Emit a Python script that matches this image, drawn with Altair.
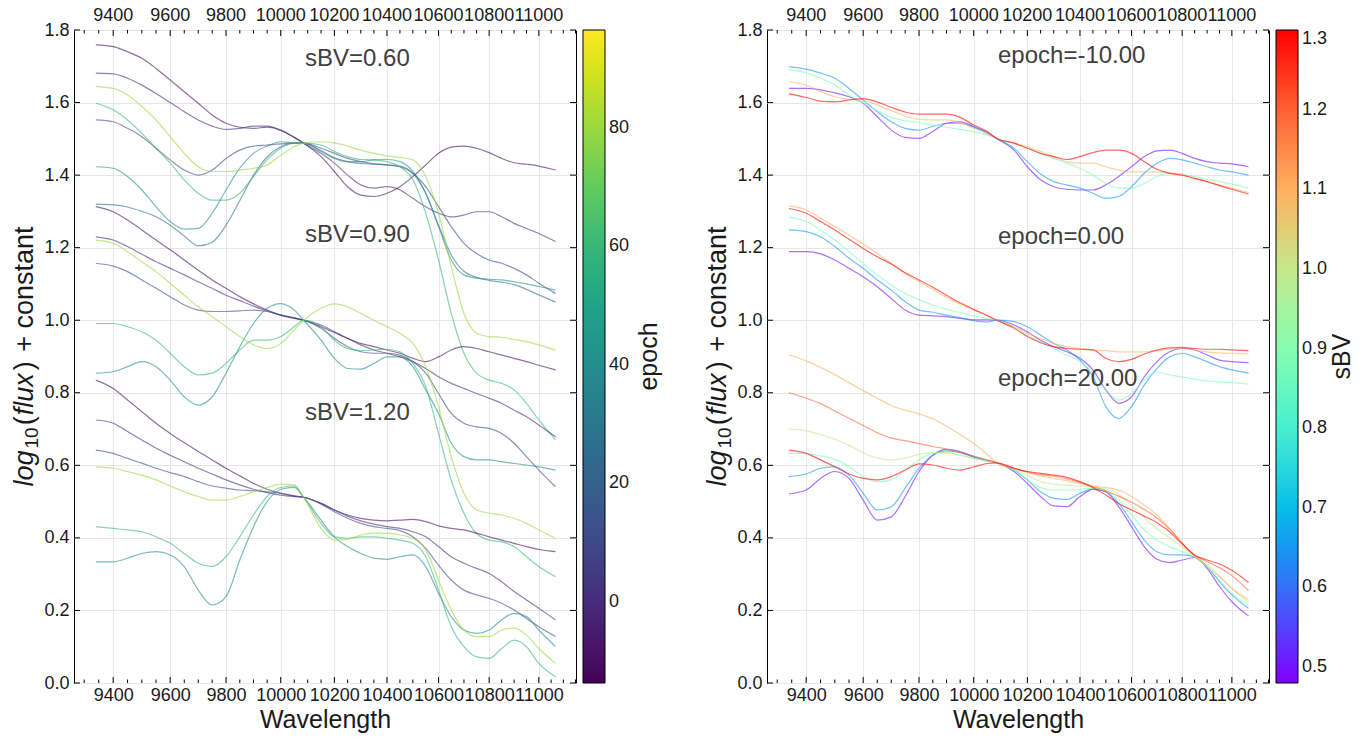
import altair as alt
import pandas as pd

# ---------------------------------------------------------------- data
WAVE = [9340, 9400, 9450, 9500, 9550, 9600, 9650, 9700, 9750, 9800, 9850, 9900, 9950,
        10000, 10050, 10085, 10150, 10200, 10250, 10300, 10350, 10400, 10450, 10500,
        10550, 10600, 10650, 10700, 10750, 10800, 10850, 10900, 10950, 11000, 11068]

X_MAJOR = [9400, 9600, 9800, 10000, 10200, 10400, 10600, 10800, 11000]
X_MINOR = [9300, 9350, 9450, 9500, 9550, 9650, 9700, 9750, 9850, 9900, 9950,
           10050, 10100, 10150, 10250, 10300, 10350, 10450, 10500, 10550,
           10650, 10700, 10750, 10850, 10900, 10950, 11050, 11100, 11150]
Y_MAJOR = [0.0, 0.2, 0.4, 0.6, 0.8, 1.0, 1.2, 1.4, 1.6, 1.8]

# left panel: spectra at fixed sBV for a range of epochs
SBV_GROUPS = [0.60, 0.90, 1.20]
SBV_LABEL_Y = [1.70, 1.215, 0.725]
FLUX_SBV060 = {
    -10: [1.759, 1.754, 1.740, 1.722, 1.694, 1.662, 1.630, 1.598, 1.566, 1.543, 1.532, 1.529, 1.532, 1.524, 1.504, 1.488, 1.451, 1.410, 1.368, 1.345, 1.341, 1.350, 1.368, 1.396, 1.428, 1.460, 1.477, 1.480, 1.474, 1.462, 1.446, 1.434, 1.430, 1.425, 1.414],
    0: [1.681, 1.679, 1.667, 1.648, 1.625, 1.600, 1.575, 1.552, 1.535, 1.526, 1.529, 1.535, 1.535, 1.523, 1.504, 1.488, 1.460, 1.433, 1.400, 1.373, 1.364, 1.368, 1.359, 1.336, 1.313, 1.295, 1.285, 1.290, 1.299, 1.299, 1.285, 1.267, 1.253, 1.239, 1.217],
    10: [1.552, 1.547, 1.529, 1.506, 1.474, 1.442, 1.414, 1.400, 1.414, 1.446, 1.469, 1.480, 1.483, 1.486, 1.488, 1.488, 1.474, 1.460, 1.446, 1.437, 1.431, 1.428, 1.423, 1.405, 1.368, 1.313, 1.258, 1.212, 1.184, 1.166, 1.157, 1.143, 1.125, 1.102, 1.074],
    25: [1.320, 1.318, 1.312, 1.300, 1.285, 1.262, 1.232, 1.205, 1.215, 1.262, 1.330, 1.400, 1.450, 1.478, 1.488, 1.488, 1.468, 1.448, 1.437, 1.432, 1.430, 1.428, 1.425, 1.405, 1.350, 1.262, 1.180, 1.135, 1.118, 1.110, 1.105, 1.098, 1.085, 1.070, 1.050],
    40: [1.423, 1.419, 1.396, 1.359, 1.313, 1.272, 1.251, 1.253, 1.295, 1.359, 1.419, 1.460, 1.480, 1.492, 1.489, 1.488, 1.465, 1.446, 1.437, 1.437, 1.442, 1.443, 1.437, 1.410, 1.350, 1.258, 1.166, 1.125, 1.116, 1.113, 1.111, 1.106, 1.100, 1.093, 1.083],
    60: [1.598, 1.580, 1.552, 1.515, 1.474, 1.433, 1.387, 1.350, 1.331, 1.331, 1.350, 1.396, 1.442, 1.474, 1.488, 1.488, 1.483, 1.465, 1.451, 1.443, 1.442, 1.437, 1.423, 1.387, 1.295, 1.166, 1.019, 0.909, 0.854, 0.835, 0.826, 0.808, 0.771, 0.725, 0.670],
    80: [1.644, 1.639, 1.621, 1.589, 1.552, 1.506, 1.460, 1.423, 1.410, 1.410, 1.414, 1.419, 1.428, 1.455, 1.478, 1.488, 1.492, 1.489, 1.480, 1.469, 1.460, 1.453, 1.449, 1.442, 1.396, 1.295, 1.148, 1.019, 0.964, 0.955, 0.953, 0.947, 0.941, 0.932, 0.918],
}
FLUX_SBV090 = {
    -10: [1.313, 1.299, 1.276, 1.249, 1.221, 1.194, 1.166, 1.138, 1.111, 1.088, 1.065, 1.045, 1.028, 1.014, 1.005, 1.000, 0.982, 0.966, 0.950, 0.936, 0.927, 0.918, 0.909, 0.895, 0.886, 0.899, 0.918, 0.927, 0.922, 0.913, 0.904, 0.895, 0.886, 0.876, 0.863],
    0: [1.230, 1.221, 1.203, 1.182, 1.161, 1.143, 1.125, 1.106, 1.088, 1.069, 1.054, 1.039, 1.026, 1.014, 1.006, 1.000, 0.987, 0.968, 0.950, 0.932, 0.918, 0.909, 0.899, 0.886, 0.867, 0.844, 0.826, 0.812, 0.798, 0.785, 0.771, 0.752, 0.734, 0.711, 0.679],
    10: [1.157, 1.149, 1.134, 1.111, 1.088, 1.065, 1.042, 1.028, 1.024, 1.024, 1.026, 1.028, 1.024, 1.014, 1.007, 1.000, 0.978, 0.950, 0.927, 0.913, 0.909, 0.909, 0.904, 0.886, 0.854, 0.798, 0.743, 0.716, 0.706, 0.702, 0.688, 0.661, 0.624, 0.587, 0.541],
    40: [0.854, 0.858, 0.872, 0.886, 0.872, 0.835, 0.789, 0.766, 0.789, 0.854, 0.927, 0.991, 1.033, 1.046, 1.028, 1.000, 0.945, 0.895, 0.867, 0.865, 0.881, 0.899, 0.899, 0.872, 0.808, 0.743, 0.661, 0.624, 0.615, 0.615, 0.610, 0.605, 0.601, 0.596, 0.587],
    60: [0.991, 0.991, 0.982, 0.968, 0.945, 0.909, 0.872, 0.849, 0.854, 0.881, 0.918, 0.945, 0.945, 0.955, 0.982, 1.000, 0.982, 0.945, 0.922, 0.916, 0.918, 0.920, 0.913, 0.881, 0.817, 0.688, 0.559, 0.468, 0.412, 0.394, 0.389, 0.376, 0.348, 0.321, 0.293],
    80: [1.221, 1.212, 1.189, 1.161, 1.134, 1.102, 1.069, 1.037, 1.010, 0.982, 0.955, 0.932, 0.922, 0.936, 0.973, 1.000, 1.033, 1.045, 1.037, 1.019, 1.000, 0.982, 0.964, 0.936, 0.872, 0.762, 0.624, 0.523, 0.477, 0.468, 0.463, 0.454, 0.440, 0.422, 0.399],
}
FLUX_SBV120 = {
    -10: [0.835, 0.812, 0.780, 0.748, 0.716, 0.688, 0.662, 0.638, 0.615, 0.592, 0.571, 0.550, 0.534, 0.523, 0.515, 0.512, 0.495, 0.477, 0.463, 0.454, 0.449, 0.447, 0.449, 0.451, 0.445, 0.433, 0.426, 0.422, 0.413, 0.403, 0.394, 0.385, 0.376, 0.368, 0.362],
    0: [0.725, 0.716, 0.693, 0.670, 0.647, 0.628, 0.610, 0.592, 0.576, 0.560, 0.546, 0.534, 0.525, 0.518, 0.514, 0.512, 0.495, 0.477, 0.460, 0.447, 0.438, 0.431, 0.426, 0.417, 0.403, 0.376, 0.348, 0.330, 0.316, 0.302, 0.279, 0.252, 0.229, 0.206, 0.174],
    10: [0.642, 0.633, 0.619, 0.606, 0.592, 0.580, 0.569, 0.555, 0.543, 0.537, 0.532, 0.530, 0.527, 0.523, 0.516, 0.512, 0.493, 0.472, 0.454, 0.440, 0.431, 0.426, 0.420, 0.403, 0.371, 0.325, 0.284, 0.256, 0.243, 0.233, 0.220, 0.201, 0.178, 0.155, 0.128],
    40: [0.334, 0.334, 0.344, 0.357, 0.362, 0.353, 0.321, 0.256, 0.215, 0.238, 0.339, 0.431, 0.500, 0.534, 0.539, 0.512, 0.449, 0.403, 0.376, 0.357, 0.344, 0.341, 0.348, 0.353, 0.321, 0.247, 0.183, 0.146, 0.137, 0.146, 0.174, 0.192, 0.183, 0.146, 0.100],
    60: [0.431, 0.426, 0.422, 0.417, 0.403, 0.385, 0.357, 0.330, 0.321, 0.348, 0.403, 0.463, 0.514, 0.539, 0.543, 0.512, 0.440, 0.403, 0.399, 0.403, 0.403, 0.399, 0.394, 0.385, 0.348, 0.256, 0.155, 0.100, 0.072, 0.068, 0.095, 0.118, 0.100, 0.054, 0.017],
    80: [0.596, 0.592, 0.583, 0.573, 0.560, 0.543, 0.527, 0.514, 0.504, 0.504, 0.514, 0.527, 0.539, 0.548, 0.546, 0.512, 0.426, 0.394, 0.396, 0.408, 0.413, 0.413, 0.408, 0.399, 0.367, 0.284, 0.201, 0.146, 0.128, 0.128, 0.146, 0.151, 0.132, 0.095, 0.054],
}

# right panel: spectra at fixed epoch for a range of sBV
EPOCH_GROUPS = [-10.0, 0.0, 20.0]
EPOCH_LABEL_Y = [1.71, 1.21, 0.82]
FLUX_EPM10 = {
    0.50: [1.639, 1.639, 1.635, 1.627, 1.616, 1.598, 1.561, 1.524, 1.504, 1.501, 1.520, 1.543, 1.547, 1.534, 1.517, 1.501, 1.469, 1.423, 1.387, 1.368, 1.361, 1.359, 1.359, 1.373, 1.396, 1.423, 1.451, 1.467, 1.469, 1.460, 1.446, 1.437, 1.433, 1.431, 1.423],
    0.65: [1.699, 1.692, 1.681, 1.667, 1.639, 1.607, 1.575, 1.547, 1.529, 1.524, 1.534, 1.543, 1.543, 1.532, 1.517, 1.501, 1.474, 1.437, 1.403, 1.382, 1.373, 1.364, 1.350, 1.336, 1.341, 1.368, 1.405, 1.432, 1.446, 1.442, 1.433, 1.423, 1.414, 1.409, 1.400],
    0.88: [1.690, 1.682, 1.667, 1.648, 1.621, 1.598, 1.578, 1.559, 1.550, 1.545, 1.538, 1.532, 1.526, 1.520, 1.511, 1.501, 1.488, 1.474, 1.460, 1.446, 1.433, 1.419, 1.400, 1.377, 1.364, 1.364, 1.377, 1.396, 1.405, 1.403, 1.396, 1.388, 1.382, 1.375, 1.364],
    1.10: [1.658, 1.648, 1.630, 1.616, 1.609, 1.607, 1.593, 1.578, 1.563, 1.554, 1.552, 1.552, 1.545, 1.529, 1.515, 1.501, 1.489, 1.478, 1.465, 1.451, 1.437, 1.433, 1.433, 1.423, 1.414, 1.409, 1.409, 1.409, 1.407, 1.400, 1.391, 1.382, 1.373, 1.364, 1.352],
    1.30: [1.624, 1.614, 1.604, 1.602, 1.607, 1.611, 1.602, 1.587, 1.574, 1.568, 1.568, 1.568, 1.559, 1.538, 1.520, 1.501, 1.488, 1.474, 1.460, 1.451, 1.443, 1.451, 1.462, 1.469, 1.469, 1.460, 1.437, 1.416, 1.405, 1.400, 1.391, 1.382, 1.371, 1.361, 1.348],
}
FLUX_EP0 = {
    0.50: [1.189, 1.189, 1.183, 1.166, 1.143, 1.120, 1.092, 1.060, 1.028, 1.014, 1.012, 1.010, 1.005, 1.001, 1.001, 1.000, 0.987, 0.968, 0.945, 0.927, 0.913, 0.895, 0.863, 0.808, 0.771, 0.789, 0.844, 0.886, 0.913, 0.922, 0.918, 0.904, 0.890, 0.886, 0.883],
    0.65: [1.249, 1.244, 1.230, 1.203, 1.171, 1.143, 1.111, 1.083, 1.051, 1.028, 1.022, 1.014, 1.007, 0.999, 0.995, 1.000, 0.996, 0.982, 0.959, 0.936, 0.918, 0.890, 0.844, 0.762, 0.729, 0.762, 0.821, 0.867, 0.899, 0.909, 0.899, 0.886, 0.872, 0.863, 0.854],
    0.88: [1.284, 1.272, 1.249, 1.221, 1.189, 1.157, 1.125, 1.097, 1.074, 1.056, 1.042, 1.030, 1.021, 1.012, 1.005, 1.000, 0.982, 0.959, 0.941, 0.922, 0.904, 0.886, 0.854, 0.808, 0.780, 0.798, 0.835, 0.858, 0.849, 0.844, 0.837, 0.832, 0.830, 0.828, 0.824],
    1.10: [1.315, 1.304, 1.281, 1.258, 1.235, 1.210, 1.184, 1.157, 1.129, 1.106, 1.085, 1.063, 1.045, 1.028, 1.012, 1.000, 0.982, 0.964, 0.950, 0.936, 0.927, 0.922, 0.918, 0.916, 0.913, 0.913, 0.913, 0.916, 0.920, 0.922, 0.918, 0.913, 0.910, 0.909, 0.907],
    1.30: [1.308, 1.295, 1.272, 1.249, 1.223, 1.198, 1.175, 1.155, 1.131, 1.111, 1.091, 1.069, 1.048, 1.030, 1.013, 1.000, 0.978, 0.955, 0.938, 0.927, 0.922, 0.920, 0.918, 0.895, 0.886, 0.892, 0.907, 0.918, 0.924, 0.925, 0.922, 0.920, 0.920, 0.918, 0.916],
}
FLUX_EP20 = {
    0.50: [0.521, 0.532, 0.564, 0.583, 0.564, 0.504, 0.449, 0.458, 0.514, 0.583, 0.628, 0.644, 0.638, 0.624, 0.613, 0.607, 0.583, 0.550, 0.514, 0.488, 0.486, 0.514, 0.534, 0.527, 0.486, 0.431, 0.376, 0.341, 0.332, 0.339, 0.346, 0.316, 0.266, 0.224, 0.185],
    0.65: [0.569, 0.576, 0.592, 0.596, 0.573, 0.523, 0.477, 0.486, 0.537, 0.592, 0.628, 0.640, 0.635, 0.622, 0.612, 0.607, 0.587, 0.560, 0.527, 0.509, 0.506, 0.523, 0.535, 0.527, 0.495, 0.445, 0.394, 0.362, 0.353, 0.353, 0.348, 0.321, 0.279, 0.243, 0.206],
    0.88: [0.633, 0.633, 0.626, 0.617, 0.596, 0.569, 0.555, 0.560, 0.587, 0.615, 0.633, 0.635, 0.628, 0.619, 0.612, 0.607, 0.587, 0.560, 0.539, 0.532, 0.532, 0.534, 0.537, 0.530, 0.504, 0.463, 0.422, 0.394, 0.376, 0.362, 0.348, 0.321, 0.284, 0.247, 0.215],
    1.00: [0.700, 0.695, 0.685, 0.672, 0.655, 0.635, 0.620, 0.615, 0.620, 0.630, 0.635, 0.635, 0.628, 0.620, 0.612, 0.607, 0.590, 0.572, 0.555, 0.548, 0.545, 0.543, 0.541, 0.535, 0.520, 0.490, 0.455, 0.425, 0.400, 0.375, 0.350, 0.328, 0.295, 0.260, 0.222],
    1.10: [0.905, 0.888, 0.870, 0.850, 0.828, 0.806, 0.785, 0.765, 0.752, 0.742, 0.728, 0.708, 0.685, 0.660, 0.630, 0.607, 0.592, 0.580, 0.571, 0.564, 0.558, 0.550, 0.543, 0.539, 0.532, 0.514, 0.491, 0.463, 0.426, 0.385, 0.348, 0.321, 0.293, 0.261, 0.229],
    1.20: [0.800, 0.785, 0.770, 0.750, 0.730, 0.710, 0.690, 0.675, 0.668, 0.660, 0.652, 0.645, 0.635, 0.625, 0.615, 0.607, 0.592, 0.582, 0.575, 0.570, 0.563, 0.553, 0.541, 0.530, 0.515, 0.498, 0.478, 0.455, 0.424, 0.386, 0.352, 0.335, 0.318, 0.296, 0.255],
    1.30: [0.642, 0.633, 0.615, 0.596, 0.576, 0.564, 0.560, 0.569, 0.587, 0.604, 0.601, 0.592, 0.587, 0.596, 0.605, 0.607, 0.592, 0.583, 0.578, 0.573, 0.567, 0.555, 0.539, 0.518, 0.495, 0.477, 0.460, 0.442, 0.417, 0.383, 0.353, 0.339, 0.328, 0.311, 0.277],
}

EPOCH_TICKS = [0, 20, 40, 60, 80]
SBV_TICKS = [0.5, 0.6, 0.7, 0.8, 0.9, 1.0, 1.1, 1.2, 1.3]
# matplotlib "rainbow" colormap sampled at 9 evenly spaced stops
RAINBOW = ["#8000ff", "#4062fa", "#00b4ec", "#40ecd4", "#80ffb4",
           "#bfec8e", "#ffb462", "#ff6232", "#ff0000"]

# ---------------------------------------------------------------- layout
W, H = 502, 653
FONT = "Liberation Sans"
INK = "#1a1a1a"
X_SCALE = alt.Scale(type="log", domain=[9265, 11152], nice=False)
Y_SCALE = alt.Scale(domain=[0, 1.8], nice=False, zero=False)
X_AXIS = alt.Axis(values=X_MAJOR, format="d", title="Wavelength", grid=True,
                  ticks=False, domain=False, labelOverlap=False, labelFlush=False,
                  labelFontSize=18, labelPadding=3, titleFontSize=25,
                  titleFontWeight="normal", titlePadding=3, labelColor=INK,
                  titleColor=INK)
Y_AXIS = alt.Axis(values=Y_MAJOR, format=".1f", title=None, grid=True, ticks=False,
                  domain=False, labelFontSize=18, labelPadding=5, labelColor=INK)


def long_table(groups, tables, group_name, key_name):
    rows = []
    for g, tab in zip(groups, tables):
        for key, flux in tab.items():
            for w, f in zip(WAVE, flux):
                rows.append({group_name: g, key_name: key, "curve": f"{g}_{key}",
                             "wave": w, "flux": f})
    return pd.DataFrame(rows)


left_df = long_table(SBV_GROUPS, [FLUX_SBV060, FLUX_SBV090, FLUX_SBV120], "sBVgroup", "epoch")
right_df = long_table(EPOCH_GROUPS, [FLUX_EPM10, FLUX_EP0, FLUX_EP20], "epochgroup", "sBV")


def x_enc(field):
    return alt.X(f"{field}:Q", scale=X_SCALE, axis=X_AXIS)


def y_enc(field):
    return alt.Y(f"{field}:Q", scale=Y_SCALE, axis=Y_AXIS)


def tick_layers():
    xmaj = pd.DataFrame({"w": X_MAJOR})
    xmin = pd.DataFrame({"w": X_MINOR})
    yt = pd.DataFrame({"v": Y_MAJOR})
    rule = dict(color="black", strokeWidth=1)
    layers = []
    for df, ln in [(xmaj, 6), (xmin, 3.5)]:
        layers.append(alt.Chart(df).mark_rule(**rule).encode(
            x=x_enc("w"), y=alt.value(H), y2=alt.value(H - ln)))
        layers.append(alt.Chart(df).mark_rule(**rule).encode(
            x=x_enc("w"), y=alt.value(0), y2=alt.value(ln)))
    layers.append(alt.Chart(yt).mark_rule(**rule).encode(
        y=y_enc("v"), x=alt.value(0), x2=alt.value(6)))
    layers.append(alt.Chart(yt).mark_rule(**rule).encode(
        y=y_enc("v"), x=alt.value(W), x2=alt.value(W - 6)))
    top = pd.DataFrame({"w": X_MAJOR, "lab": [str(v) for v in X_MAJOR]})
    layers.append(alt.Chart(top).mark_text(
        baseline="alphabetic", fontSize=18, color=INK, font=FONT).encode(
        x=x_enc("w"), y=alt.value(-9.5), text="lab:N"))
    return layers


def rotated_text(text, x, y, size=25, style="normal", align="left"):
    return alt.Chart(pd.DataFrame({"t": [text]})).mark_text(
        angle=270, align=align, baseline="alphabetic", fontSize=size,
        fontStyle=style, color=INK, font=FONT).encode(
        text="t:N", x=alt.value(x), y=alt.value(y))


def y_title_layers():
    # log_10(flux) + constant, written bottom-to-top in styled pieces
    fs, sub = 27, 19
    pieces = [("log", fs, "italic", 0, 1.334 * fs + 2),
              ("10", sub, "normal", 5, 2 * 0.556 * sub + 2),
              ("(", fs, "normal", 0, 0.333 * fs + 1),
              ("flux", fs, "italic", 0, 1.556 * fs + 3),
              (")", fs, "normal", 0, 0.333 * fs + 0.278 * fs + 2),
              ("+ constant", fs, "normal", 0, 4.64 * fs)]
    total = sum(p[4] for p in pieces)
    pos = H / 2 + total / 2
    layers = []
    for text, size, style, shift, width in pieces:
        layers.append(rotated_text(text, -41 + shift, pos, size, style))
        pos -= width
    return layers


def panel(df, color, labels, cbar_title):
    lines = alt.Chart(df).mark_line(interpolate="monotone", strokeWidth=1.2,
                                    opacity=0.6).encode(
        x=x_enc("wave"), y=y_enc("flux"), color=color, detail="curve:N")
    ann = alt.Chart(labels).mark_text(align="left", baseline="alphabetic", fontSize=24,
                                      color="#404040", font=FONT).encode(
        x=x_enc("wave"), y=y_enc("flux"), text="label:N")
    cbar_label = rotated_text(cbar_title, W + 81, H / 2, align="center")
    return alt.layer(lines, ann, *tick_layers(), *y_title_layers(), cbar_label).properties(
        width=W, height=H)


def legend(values, fmt):
    return alt.Legend(orient="none", legendX=509, legendY=0, direction="vertical",
                      gradientLength=H, gradientThickness=22, title=None,
                      labelFontSize=18, labelColor=INK, labelOffset=4,
                      labelBaseline="middle", values=values, format=fmt,
                      gradientStrokeColor="black", gradientStrokeWidth=1,
                      gradientOpacity=1, padding=0)


left_labels = pd.DataFrame({"wave": [10090] * 3, "flux": SBV_LABEL_Y,
                            "label": [f"sBV={v:.2f}" for v in SBV_GROUPS]})
right_labels = pd.DataFrame({"wave": [10090] * 3, "flux": EPOCH_LABEL_Y,
                             "label": [f"epoch={v:.2f}" for v in EPOCH_GROUPS]})

left = panel(left_df, alt.Color("epoch:Q", scale=alt.Scale(scheme="viridis",
                                                           domain=[-13.7, 96.5]),
                                legend=legend(EPOCH_TICKS, "d")), left_labels, "epoch")
right = panel(right_df, alt.Color("sBV:Q", scale=alt.Scale(range=RAINBOW,
                                                           domain=[0.48, 1.3],
                                                           interpolate="rgb"),
                                  legend=legend(SBV_TICKS, ".1f")), right_labels, "sBV")

chart = alt.hconcat(left, right, spacing=40).resolve_scale(
    color="independent").resolve_legend(color="independent").properties(
    padding={"left": 10, "top": 6, "right": 0, "bottom": 0}
).configure(font=FONT, background="white").configure_view(
    stroke="black", strokeWidth=1
).configure_axis(gridColor="#e6e6e6", gridWidth=1)

chart.save("out.html", embed_options={"renderer": "svg", "actions": False})
